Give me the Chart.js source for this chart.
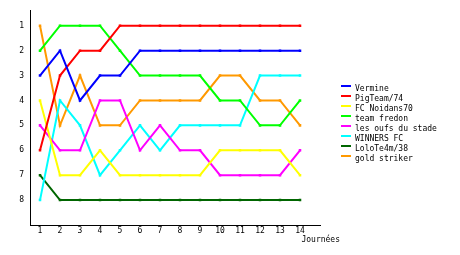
<!DOCTYPE html>
<html lang="fr">
<head>
    <meta charset="UTF-8">
    <title>Classement par journée</title>
    <script src="https://cdn.jsdelivr.net/npm/chart.js"></script>
    <style>
        html, body { margin: 0; padding: 0; background: #fff; }
        .chart-box { width: 460px; height: 255px; position: relative; }
    </style>
</head>
<body>
    <div class="chart-box">
        <canvas id="classement"></canvas>
    </div>

    <script>
        // Journées (x) et places (y)
        const journees = [1, 2, 3, 4, 5, 6, 7, 8, 9, 10, 11, 12, 13, 14];
        const places = [1, 2, 3, 4, 5, 6, 7, 8];

        const teams = ['Vermine', 'PigTeam/74', 'FC Noidans70', 'team fredon',
                       'les oufs du stade', 'WINNERS FC', 'LoloTe4m/38', 'gold striker'];

        const vermine   = [3, 2, 4, 3, 3, 2, 2, 2, 2, 2, 2, 2, 2, 2];
        const pigteam   = [6, 3, 2, 2, 1, 1, 1, 1, 1, 1, 1, 1, 1, 1];
        const noidans   = [4, 7, 7, 6, 7, 7, 7, 7, 7, 6, 6, 6, 6, 7];
        const fredon    = [2, 1, 1, 1, 2, 3, 3, 3, 3, 4, 4, 5, 5, 4];
        const oufs      = [5, 6, 6, 4, 4, 6, 5, 6, 6, 7, 7, 7, 7, 6];
        const winners   = [8, 4, 5, 7, 6, 5, 6, 5, 5, 5, 5, 3, 3, 3];
        const lolo      = [7, 8, 8, 8, 8, 8, 8, 8, 8, 8, 8, 8, 8, 8];
        const gold      = [1, 5, 3, 5, 5, 4, 4, 4, 4, 3, 3, 4, 4, 5];

        const series = [vermine, pigteam, noidans, fredon, oufs, winners, lolo, gold];
        const colors = ['#0000FF', '#FF0000', '#FFFF00', '#00FF00',
                        '#FF00FF', '#00FFFF', '#006600', '#FF9900'];

        const FONT = '"DejaVu Sans Mono", monospace';

        // legend + axis title drawn by hand to sit where the original has them
        const extras = {
            id: 'extras',
            afterDraw(chart) {
                const ctx = chart.ctx;
                const area = chart.chartArea;
                ctx.save();
                ctx.font = '8px ' + FONT;
                ctx.fillStyle = '#000';
                ctx.textBaseline = 'middle';
                ctx.textAlign = 'right';
                ctx.fillText('Journées', area.right + 20, 239.5);

                ctx.textAlign = 'left';
                chart.data.datasets.forEach((ds, i) => {
                    const y = 86 + i * 10;
                    ctx.fillStyle = ds.borderColor;
                    ctx.fillRect(341, y - 1, 10, 2);
                    ctx.fillStyle = '#000';
                    ctx.fillText(ds.label, 355, y + 3);
                });
                ctx.restore();
            }
        };

        const ctx = document.getElementById('classement').getContext('2d');
        new Chart(ctx, {
            type: 'line',
            data: {
                datasets: teams.map((name, i) => ({
                    label: name,
                    data: journees.map((j, k) => ({ x: j, y: series[i][k] })),
                    borderColor: colors[i],
                    backgroundColor: colors[i],
                    borderWidth: 2,
                    pointStyle: 'rect',
                    pointRadius: 1.8,
                    pointBorderWidth: 0,
                    tension: 0,
                    fill: false
                }))
            },
            plugins: [extras],
            options: {
                responsive: true,
                maintainAspectRatio: false,
                animation: false,
                layout: { padding: { top: 10, right: 140, left: 0, bottom: 0 } },
                plugins: {
                    legend: { display: false },
                    tooltip: { enabled: false }
                },
                scales: {
                    x: {
                        type: 'linear',
                        min: 0.5,
                        max: 15,
                        afterBuildTicks: s => { s.ticks = journees.map(v => ({ value: v })); },
                        afterFit: s => { s.height = 30; },
                        grid: { display: false, drawTicks: false },
                        border: { color: '#000', width: 1 },
                        ticks: { color: '#000', padding: 1, font: { family: FONT, size: 8 } }
                    },
                    y: {
                        type: 'linear',
                        reverse: true,
                        min: 0.4,
                        max: 9,
                        afterBuildTicks: s => { s.ticks = places.map(v => ({ value: v })); },
                        afterFit: s => { s.width = 30; },
                        grid: { display: false, drawTicks: false },
                        border: { color: '#000', width: 1 },
                        ticks: { color: '#000', padding: 6, font: { family: FONT, size: 8 } }
                    }
                }
            }
        });
    </script>
</body>
</html>
